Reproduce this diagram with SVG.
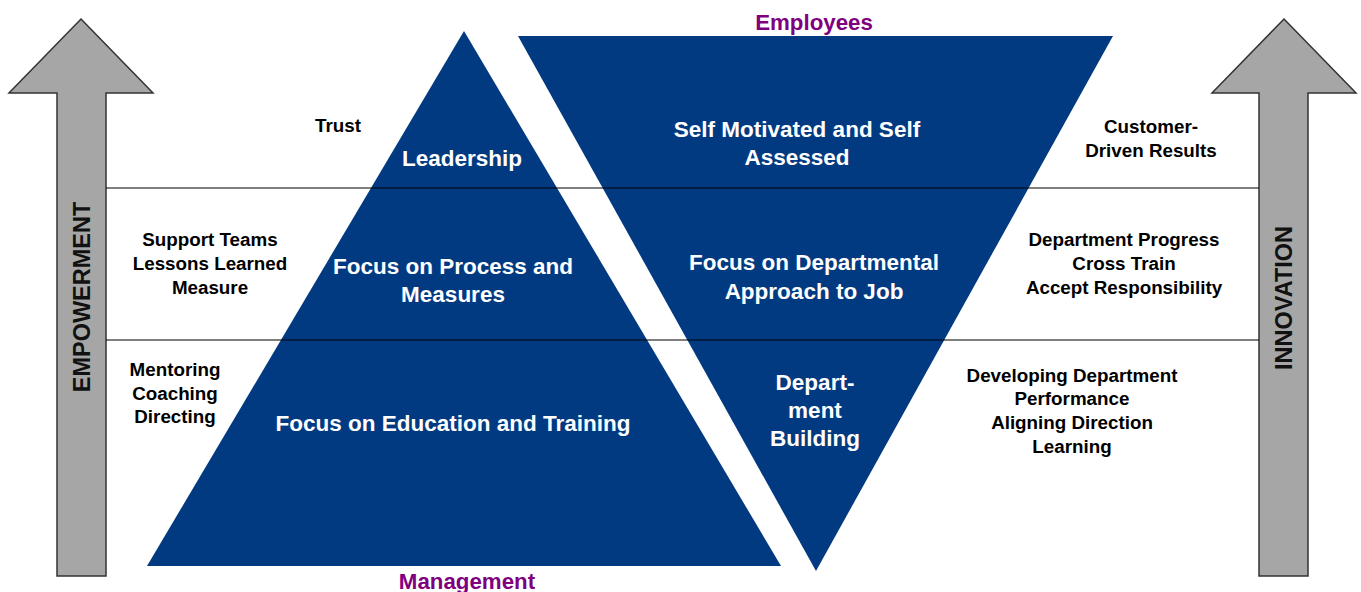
<svg xmlns="http://www.w3.org/2000/svg" width="1361" height="592" viewBox="0 0 1361 592">
<style>
.arrow{fill:#a6a6a6;stroke:#333;stroke-width:1.5}
.tri{fill:#023a82}
.w{font-family:"Liberation Sans",Arial,sans-serif;font-weight:bold;font-size:22.5px;fill:#fff;text-anchor:middle}
.b{font-family:"Liberation Sans",Arial,sans-serif;font-weight:bold;font-size:18.8px;fill:#000;text-anchor:middle}
.p{font-family:"Liberation Sans",Arial,sans-serif;font-weight:bold;font-size:22.3px;fill:#800080;text-anchor:middle}
.v{font-family:"Liberation Sans",Arial,sans-serif;font-weight:bold;font-size:23.5px;fill:#111;text-anchor:middle}
.sep{stroke:#000;stroke-opacity:0.5;stroke-width:2}
</style>
<rect width="1361" height="592" fill="#fff"/>
<g id="empowerment-arrow">
<polygon class="arrow" points="81,19 153,93 106,93 106,576 57,576 57,93 9,93"/>
<text class="v" transform="translate(90,297) rotate(-90)">EMPOWERMENT</text>
</g>
<g id="innovation-arrow">
<polygon class="arrow" points="1284,19 1356,93 1308,93 1308,576 1259,576 1259,93 1212,93"/>
<text class="v" transform="translate(1292,298) rotate(-90)">INNOVATION</text>
</g>
<g id="management-triangle">
<polygon class="tri" points="464,31 781,566 147,566"/>
<text class="w" x="462" y="166">Leadership</text>
<text class="w" x="453" y="274">Focus on Process and</text>
<text class="w" x="453" y="302">Measures</text>
<text class="w" x="453" y="431">Focus on Education and Training</text>
</g>
<g id="employees-triangle">
<polygon class="tri" points="518,36 1113,36 816,571"/>
<text class="w" x="797" y="137">Self Motivated and Self</text>
<text class="w" x="797" y="165">Assessed</text>
<text class="w" x="814" y="270">Focus on Departmental</text>
<text class="w" x="814" y="299">Approach to Job</text>
<text class="w" x="815" y="390">Depart-</text>
<text class="w" x="815" y="418">ment</text>
<text class="w" x="815" y="446">Building</text>
</g>
<g id="connectors">
<line class="sep" x1="106" y1="188" x2="1259" y2="188"/>
<line class="sep" x1="106" y1="340" x2="1259" y2="340"/>
</g>
<g id="labels">
<text class="p" x="814" y="30">Employees</text>
<text class="p" x="467" y="589">Management</text>
<text class="b" x="338" y="132">Trust</text>
<text class="b" x="210" y="246">Support Teams</text>
<text class="b" x="210" y="270">Lessons Learned</text>
<text class="b" x="210" y="294">Measure</text>
<text class="b" x="175" y="376">Mentoring</text>
<text class="b" x="175" y="400">Coaching</text>
<text class="b" x="175" y="423">Directing</text>
<text class="b" x="1151" y="133">Customer-</text>
<text class="b" x="1151" y="157">Driven Results</text>
<text class="b" x="1124" y="246">Department Progress</text>
<text class="b" x="1124" y="270">Cross Train</text>
<text class="b" x="1124" y="294">Accept Responsibility</text>
<text class="b" x="1072" y="382">Developing Department</text>
<text class="b" x="1072" y="405">Performance</text>
<text class="b" x="1072" y="429">Aligning Direction</text>
<text class="b" x="1072" y="453">Learning</text>
</g>
</svg>
